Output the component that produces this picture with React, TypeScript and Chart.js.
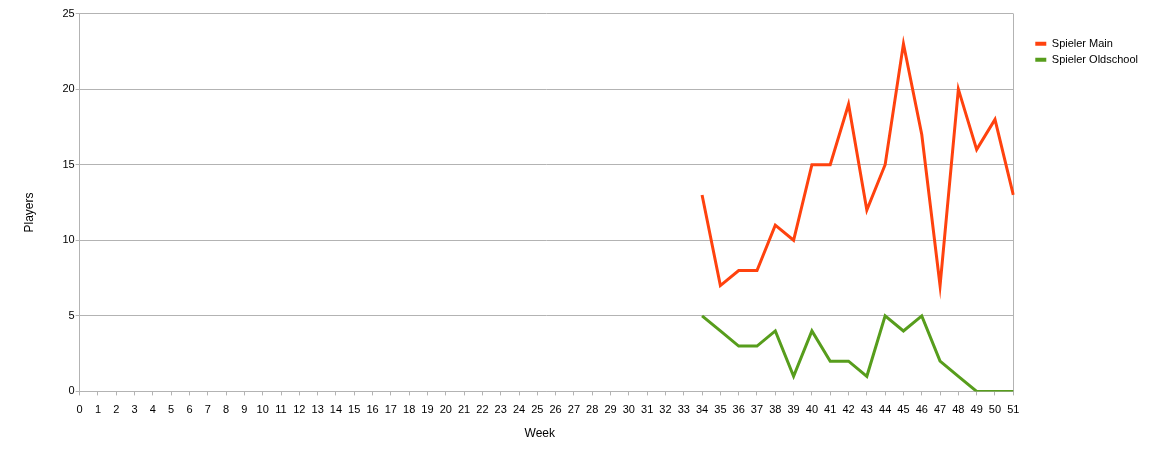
import React, { useRef, useEffect } from 'react';
import { Chart, registerables } from 'chart.js';

Chart.register(...registerables);

const weeks = Array.from({ length: 52 }, (_, i) => String(i));

// weeks 0-33 have no data
const empty = Array(34).fill(null);
const mainPlayers: (number | null)[] = [
  ...empty,
  13, 7, 8, 8, 11, 10, 15, 15, 19, 12, 15, 23, 17, 7, 20, 16, 18, 13,
];
const oldschoolPlayers: (number | null)[] = [
  ...empty,
  5, 4, 3, 3, 4, 1, 4, 2, 2, 1, 5, 4, 5, 2, 1, 0, 0, 0,
];
const yTicks = [0, 5, 10, 15, 20, 25];

const FONT = '"Liberation Sans", Arial, sans-serif';
const GRID = '#b3b3b3';

// extra room between plot and legend
const legendGap = {
  id: 'legendGap',
  afterInit(chart: any) {
    const legend = chart.legend;
    if (!legend) return;
    const fit = legend.fit;
    legend.fit = function () {
      fit.call(this);
      this.width += 22;
    };
  },
  afterLayout(chart: any) {
    if (chart.legend) chart.legend.left += 17;
  },
};

const App: React.FC = () => {
  const chartRef = useRef<HTMLCanvasElement>(null);
  const chartInstance = useRef<Chart | null>(null);

  useEffect(() => {
    if (!chartRef.current) return;
    if (chartInstance.current) chartInstance.current.destroy();

    chartInstance.current = new Chart(chartRef.current, {
      type: 'line',
      data: {
        labels: weeks,
        datasets: [
          {
            label: 'Spieler Main',
            data: mainPlayers,
            borderColor: '#ff420e',
            backgroundColor: '#ff420e',
            borderWidth: 3,
            pointRadius: 0,
            tension: 0,
          },
          {
            label: 'Spieler Oldschool',
            data: oldschoolPlayers,
            borderColor: '#579d1c',
            backgroundColor: '#579d1c',
            borderWidth: 3,
            pointRadius: 0,
            tension: 0,
          },
        ],
      },
      plugins: [legendGap],
      options: {
        animation: false,
        responsive: true,
        maintainAspectRatio: false,
        layout: { padding: { top: 3, right: 0, left: 0, bottom: 0 } },
        plugins: {
          tooltip: { enabled: false },
          legend: {
            position: 'right',
            align: 'start',
            title: { display: true, text: '', font: { size: 1 }, padding: { top: 23, bottom: 0 } },
            labels: {
              boxWidth: 11,
              boxHeight: 4,
              padding: 5,
              color: '#000',
              font: { family: FONT, size: 11 },
              generateLabels: (chart: any) =>
                Chart.defaults.plugins.legend.labels
                  .generateLabels(chart)
                  .map((l: any) => ({ ...l, lineWidth: 0 })),
            },
          },
        },
        scales: {
          x: {
            offset: false,
            grid: {
              color: (ctx: any) => (ctx.index === weeks.length - 1 ? GRID : 'transparent'),
              tickColor: GRID,
              tickLength: 4,
            },
            border: { color: GRID },
            ticks: {
              autoSkip: false,
              maxRotation: 0,
              padding: 8,
              color: '#000',
              font: { family: FONT, size: 11 },
            },
            title: {
              display: true,
              text: 'Week    ',
              color: '#000',
              font: { family: FONT, size: 12 },
              padding: { top: 2, bottom: 3 },
            },
          },
          y: {
            min: 0,
            max: 25,
            afterBuildTicks: (axis: any) => {
              axis.ticks = yTicks.map((v) => ({ value: v }));
            },
            grid: { color: GRID, tickColor: GRID, tickLength: 4 },
            border: { color: GRID },
            ticks: {
              padding: 1,
              color: '#000',
              font: { family: FONT, size: 11 },
            },
            title: {
              display: true,
              text: 'Players      ',
              color: '#000',
              font: { family: FONT, size: 12 },
              padding: { top: 14, bottom: 25 },
            },
          },
        },
      },
    });

    return () => {
      if (chartInstance.current) {
        chartInstance.current.destroy();
        chartInstance.current = null;
      }
    };
  }, []);

  return (
    <div style={{ height: '438px', marginTop: '-2px', position: 'relative' }}>
      <canvas ref={chartRef} />
    </div>
  );
};

export default App;
